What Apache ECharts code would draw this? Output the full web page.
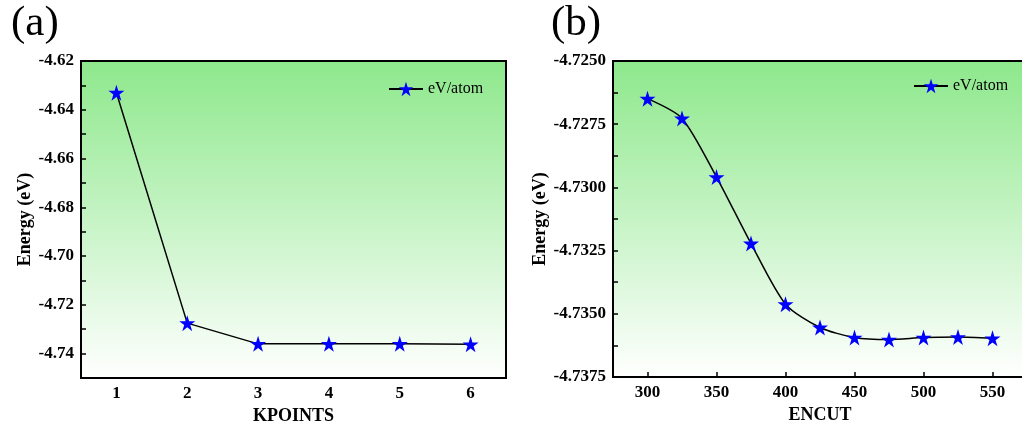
<!DOCTYPE html>
<html>
<head>
<meta charset="utf-8">
<script src="https://cdn.jsdelivr.net/npm/echarts@6/dist/echarts.min.js"></script>
<style>html,body{margin:0;padding:0;background:#fff;}#c{width:1022px;height:423px;}</style>
</head>
<body>
<div id="c"></div>
<script>
// ---- data ----
const kpoints = ['1', '2', '3', '4', '5', '6'];
const kpointsEnergy = [-4.633, -4.7275, -4.7360, -4.7360, -4.7360, -4.7362];
const encut = [300, 325, 350, 375, 400, 425, 450, 475, 500, 525, 550];
const encutEnergy = [-4.72649, -4.72727, -4.72959, -4.73222, -4.73462, -4.73554, -4.73594, -4.73602, -4.73594, -4.73592, -4.73597];
const yTicksA = [-4.62, -4.64, -4.66, -4.68, -4.70, -4.72, -4.74];
const yMinorA = [-4.63, -4.65, -4.67, -4.69, -4.71, -4.73];
const xTicksB = [300, 350, 400, 450, 500, 550];
const seriesName = 'eV/atom';
const panelLabels = ['(a)', '(b)'];

const STAR = 'path://M50,0 L61.2,34.5 L97.6,34.5 L68.2,55.9 L79.4,90.5 L50,69.1 L20.6,90.5 L31.8,55.9 L2.4,34.5 L38.8,34.5 Z';
const serif = 'Liberation Serif';
const bg = {type: 'linear', x: 0, y: 0, x2: 0, y2: 1,
  colorStops: [{offset: 0, color: '#8de88b'}, {offset: 1, color: '#ffffff'}]};

const tickLabel = {fontFamily: serif, fontWeight: 'bold', fontSize: 17, color: '#000'};
const nameStyle = {fontFamily: serif, fontWeight: 'bold', fontSize: 18, color: '#000'};
const legendText = {fontFamily: serif, fontSize: 16, color: '#000'};

const chart = echarts.init(document.getElementById('c'));
chart.setOption({
  animation: false,
  backgroundColor: '#fff',
  graphic: panelLabels.map((t, i) => ({
    type: 'text', left: i === 0 ? 11 : 551, top: 2,
    style: {text: t, font: '43px "Liberation Serif"', fill: '#000'}
  })),
  legend: [
    {left: 383, top: 76, data: [seriesName], itemWidth: 34, itemHeight: 18, itemGap: 10, textStyle: legendText},
    {left: 908, top: 73, data: [seriesName], itemWidth: 34, itemHeight: 18, itemGap: 10, textStyle: legendText}
  ],
  grid: [
    {left: 81, top: 61, right: 516, bottom: 45, outerBoundsMode: 'none', containLabel: false,
     show: true, backgroundColor: bg, borderColor: '#000', borderWidth: 2},
    {left: 613, top: 61, right: -5, bottom: 46, outerBoundsMode: 'none', containLabel: false,
     show: true, backgroundColor: bg, borderColor: '#000', borderWidth: 2}
  ],
  xAxis: [
    {gridIndex: 0, type: 'category', data: kpoints, boundaryGap: true,
     name: 'KPOINTS', nameLocation: 'middle', nameGap: 20, nameTextStyle: nameStyle,
     axisLine: {lineStyle: {color: '#000', width: 2}},
     axisTick: {inside: true, alignWithLabel: true, length: 5, lineStyle: {color: '#000', width: 1.5}},
     axisLabel: Object.assign({margin: 7}, tickLabel),
     splitLine: {show: false}},
    {gridIndex: 1, type: 'value', min: 275, max: 575, interval: 25,
     name: 'ENCUT', nameLocation: 'middle', nameGap: 20, nameTextStyle: nameStyle,
     axisLine: {lineStyle: {color: '#000', width: 2}},
     axisTick: {inside: true, length: 5, customValues: xTicksB, lineStyle: {color: '#000', width: 1.5}},
     axisLabel: Object.assign({margin: 7, customValues: xTicksB}, tickLabel),
     splitLine: {show: false}}
  ],
  yAxis: [
    {gridIndex: 0, type: 'value', min: -4.75, max: -4.62, interval: 0.01,
     name: 'Energy (eV)', nameLocation: 'middle', nameGap: 40, nameTextStyle: nameStyle,
     axisLine: {show: true, lineStyle: {color: '#000', width: 2}},
     axisTick: {show: true, inside: true, length: 5, customValues: yTicksA.concat(yMinorA), lineStyle: {color: '#000', width: 1.5}},
     axisLabel: Object.assign({margin: 7, customValues: yTicksA, formatter: v => v.toFixed(2)}, tickLabel),
     splitLine: {show: false}},
    {gridIndex: 1, type: 'value', min: -4.7375, max: -4.7250, interval: 0.0025,
     name: 'Energy (eV)', nameLocation: 'middle', nameGap: 57, nameTextStyle: nameStyle,
     axisLine: {show: true, lineStyle: {color: '#000', width: 2}},
     axisTick: {show: true, inside: true, length: 5, lineStyle: {color: '#000', width: 1.5}},
     minorTick: {show: true, splitNumber: 2, length: 5, lineStyle: {color: '#000', width: 1.5}},
     axisLabel: Object.assign({margin: 7, formatter: v => v.toFixed(4)}, tickLabel),
     splitLine: {show: false}}
  ],
  series: [
    {name: seriesName, type: 'line', xAxisIndex: 0, yAxisIndex: 0, data: kpointsEnergy,
     symbol: STAR, symbolSize: 16, itemStyle: {color: '#0000ff'},
     lineStyle: {color: '#000', width: 1.5}},
    {name: seriesName, type: 'line', xAxisIndex: 1, yAxisIndex: 1,
     data: encut.map((x, i) => [x, encutEnergy[i]]),
     smooth: 0.25, symbol: STAR, symbolSize: 16, itemStyle: {color: '#0000ff'},
     lineStyle: {color: '#000', width: 1.5}}
  ]
});
</script>
</body>
</html>
